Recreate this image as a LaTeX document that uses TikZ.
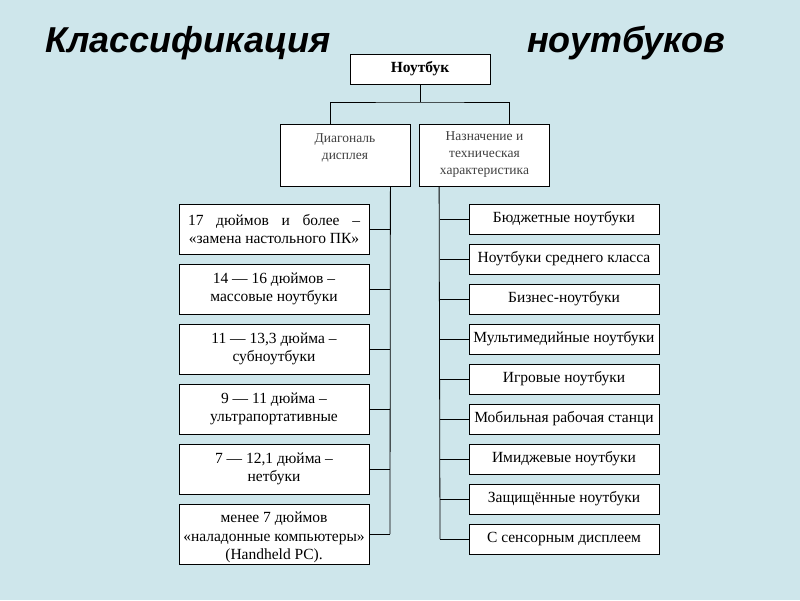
\documentclass[tikz,border=0pt]{standalone}
\usepackage{fontspec}
\setmainfont{Liberation Serif}
\newfontfamily\titlefont{Liberation Sans}
\definecolor{bgblue}{RGB}{206,230,235}

\begin{document}
\begin{tikzpicture}[x=1pt,y=-1pt,
  box/.style={draw=black, fill=white, line width=0.8pt, inner sep=0pt, align=center},
  lbox/.style={box, minimum width=190pt, minimum height=50pt, font=\fontsize{15.5}{18.5}\selectfont},
  rbox/.style={box, minimum width=190pt, minimum height=30pt, font=\fontsize{15.5}{18}\selectfont},
  tbox/.style={box, minimum width=130pt, minimum height=62pt, font=\fontsize{13.5}{17}\selectfont, text=black!75},
  ttl/.style={font=\titlefont\bfseries\itshape\fontsize{36}{40}\selectfont, inner sep=0pt, anchor=base west},
  link/.style={draw=black, line width=0.8pt}]
\fill[bgblue] (0,0) rectangle (800,600);
\useasboundingbox (0,0) rectangle (800,600);

\node[ttl] (ttl1) at (45,52) {Классификация};
\node[ttl] (ttl2) at (527,52) {ноутбуков};

\node[box, minimum width=140pt, minimum height=30pt, font=\bfseries\fontsize{15.5}{17}\selectfont] (nb) at (420,69) {Ноутбук};
\node[tbox] (diag) at (345,155) {Диагональ\\дисплея\\~};
\node[tbox] (purp) at (484.5,155) {Назначение и\\техническая\\характеристика};

% left branch
\node[lbox] (l1) at (274,229) {\makebox[172pt][s]{17 дюймов и более –}\\«замена настольного ПК»};
\node[lbox] (l2) at (274,289) {14 — 16 дюймов –\\массовые ноутбуки};
\node[lbox] (l3) at (274,349) {11 — 13,3 дюйма –\\субноутбуки};
\node[lbox] (l4) at (274,409) {9 — 11 дюйма –\\ультрапортативные};
\node[lbox] (l5) at (274,469) {7 — 12,1 дюйма –\\нетбуки};
\node[lbox, minimum height=60pt] (l6) at (274,534) {\rule{0pt}{18pt}менее 7 дюймов\\«наладонные компьютеры»\\(Handheld PC).};

% right branch
\node[rbox] (r1) at (564,219) {Бюджетные ноутбуки};
\node[rbox] (r2) at (564,259) {Ноутбуки среднего класса};
\node[rbox] (r3) at (564,299) {Бизнес-ноутбуки};
\node[rbox] (r4) at (564,339) {Мультимедийные ноутбуки};
\node[rbox] (r5) at (564,379) {Игровые ноутбуки};
\node[rbox] (r6) at (564,419) {Мобильная рабочая станци};
\node[rbox] (r7) at (564,459) {Имиджевые ноутбуки};
\node[rbox] (r8) at (564,499) {Защищённые ноутбуки};
\node[rbox] (r9) at (564,539) {С сенсорным дисплеем};

\coordinate (fork) at (420,102);
\coordinate (ltrunk) at (390,534);
\coordinate (rtrunk) at (440,539);

\draw[link] (nb) -- (fork);
\draw[link] ([xshift=-15pt]diag.north) |- (fork) -| ([xshift=24.5pt]purp.north);
\draw[link] ([xshift=-20pt]diag.south east) -- (ltrunk);
\draw[link] ([xshift=20pt]purp.south west) -- (rtrunk);

\draw[link] (l1.east) -- (l1.east -| ltrunk);
\draw[link] (l2.east) -- (l2.east -| ltrunk);
\draw[link] (l3.east) -- (l3.east -| ltrunk);
\draw[link] (l4.east) -- (l4.east -| ltrunk);
\draw[link] (l5.east) -- (l5.east -| ltrunk);
\draw[link] (l6.east) -- (l6.east -| ltrunk);

\draw[link] (r1.west) -- (r1.west -| rtrunk);
\draw[link] (r2.west) -- (r2.west -| rtrunk);
\draw[link] (r3.west) -- (r3.west -| rtrunk);
\draw[link] (r4.west) -- (r4.west -| rtrunk);
\draw[link] (r5.west) -- (r5.west -| rtrunk);
\draw[link] (r6.west) -- (r6.west -| rtrunk);
\draw[link] (r7.west) -- (r7.west -| rtrunk);
\draw[link] (r8.west) -- (r8.west -| rtrunk);
\draw[link] (r9.west) -- (r9.west -| rtrunk);
\end{tikzpicture}
\end{document}
